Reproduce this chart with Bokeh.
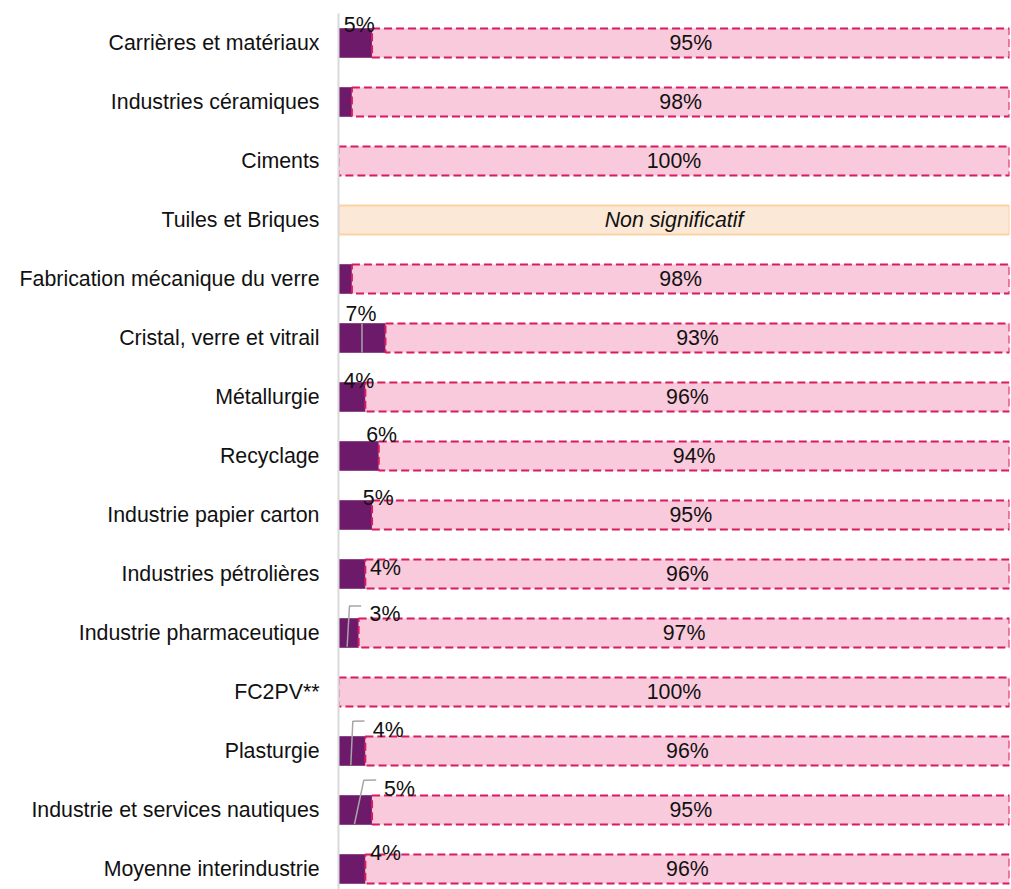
from bokeh.plotting import figure
from bokeh.models import Range1d, FixedTicker
from bokeh.core.properties import value
from bokeh.embed import file_html
from bokeh.resources import INLINE

# ---------------- data ----------------
categories = [
    "Carrières et matériaux", "Industries céramiques", "Ciments", "Tuiles et Briques",
    "Fabrication mécanique du verre", "Cristal, verre et vitrail", "Métallurgie",
    "Recyclage", "Industrie papier carton", "Industries pétrolières",
    "Industrie pharmaceutique", "FC2PV**", "Plasturgie",
    "Industrie et services nautiques", "Moyenne interindustrie",
]
share_dark = [5, 2, 0, None, 2, 7, 4, 6, 5, 4, 3, 0, 4, 5, 4]
share_pink = [95, 98, 100, None, 98, 93, 96, 94, 95, 96, 97, 100, 96, 95, 96]
not_significant = ["", "", "", "Non significatif", "", "", "", "", "", "", "", "", "", "", ""]
show_small_label = [True, False, False, False, False, True, True, True, True, True, True, False, True, True, True]

# label layout (pixel offsets from centre of dark segment / row centre)
small_label_dx = [4, 0, 0, 0, 0, -1, 7, 23, 23, 33.6, 36.4, 0, 36.3, 44.2, 33.6]
small_label_dy = [-18, 0, 0, 0, 0, -24, -16.3, -21, -17, -6, -19, 0, -21, -21, -16]
leader_px = {
    5: [(0, 14.5), (0, -14.5)],
    10: [(-1.4, 13.7), (0.9, -27), (12.6, -27)],
    12: [(-1.1, 14), (0.9, -29.7), (12.6, -30)],
    13: [(-0.8, 14), (8.5, -29.7), (20.9, -30)],
}

FONT = "Liberation Sans"
W, H = 1011, 889
LEFT, RIGHT, TOP = 338, 2, 13
frame_w = W - LEFT - RIGHT
frame_h = H - TOP
PX_X = frame_w / 100.0
PX_Y = 59.0
y_top = -0.5
y_bottom = y_top + frame_h / PX_Y

p = figure(width=W, height=H, output_backend="svg", toolbar_location=None,
           x_range=Range1d(0, 100), y_range=Range1d(y_bottom, y_top),
           min_border_left=LEFT, min_border_right=RIGHT,
           min_border_top=TOP, min_border_bottom=0)
p.outline_line_color = None
p.xgrid.visible = False
p.ygrid.visible = False
p.xaxis.visible = False
p.background_fill_color = "white"

n = len(categories)
rows = list(range(n))
BAR_H = 0.49

# dark segments
dk = [(i, v) for i, v in enumerate(share_dark) if v]
p.hbar(y=[i for i, _ in dk], left=0, right=[v for _, v in dk], height=BAR_H,
       fill_color="#6d1a6a", line_color="#8a4587", line_width=1)

# pink segments
pk = [(i, share_dark[i] or 0, v) for i, v in enumerate(share_pink) if v is not None]
p.hbar(y=[i for i, _, _ in pk], left=[d for _, d, _ in pk], right=[d + v for _, d, v in pk],
       height=BAR_H, fill_color="#f9c9dc", line_color="#d81b60", line_width=2, line_dash="8 4")

# not significant bar
ns = [i for i, t in enumerate(not_significant) if t]
p.hbar(y=ns, left=0, right=100, height=BAR_H, fill_color="#fbe8d6",
       line_color="#fbd1a2", line_width=2)
p.text(x=[50 for _ in ns], y=ns, text=[not_significant[i] for i in ns],
       text_align="center", text_baseline="middle", text_font=value(FONT),
       text_font_size="16pt", text_font_style="italic", text_color="#111111")

# big labels
p.text(x=[d + v / 2 for _, d, v in pk], y=[i for i, _, _ in pk],
       text=[f"{v}%" for _, _, v in pk], text_align="center", text_baseline="middle",
       text_font=value(FONT), text_font_size="16pt", text_color="#111111")

# leader lines
xs, ys = [], []
for i, pts in leader_px.items():
    cx = share_dark[i] / 2
    xs.append([cx + dx / PX_X for dx, _ in pts])
    ys.append([i + dy / PX_Y for _, dy in pts])
p.multi_line(xs=xs, ys=ys, line_color="#a6a6a6", line_width=1.5)

# small labels
sl = [i for i in rows if show_small_label[i]]
p.text(x=[share_dark[i] / 2 for i in sl], y=sl, text=[f"{share_dark[i]}%" for i in sl],
       x_offset=[small_label_dx[i] for i in sl], y_offset=[small_label_dy[i] for i in sl],
       text_align="center", text_baseline="alphabetic", text_font=value(FONT),
       text_font_size="16pt", text_color="#111111")

# y axis
ax = p.yaxis[0]
ax.ticker = FixedTicker(ticks=rows)
ax.major_label_overrides = {i: c for i, c in enumerate(categories)}
ax.axis_line_color = "#d9d9d9"
ax.axis_line_width = 2
ax.major_tick_line_color = None
ax.minor_tick_line_color = None
ax.major_tick_out = 0
ax.major_label_standoff = 19
ax.major_label_text_font = FONT
ax.major_label_text_font_size = "16pt"
ax.major_label_text_color = "#111111"

open("out.html", "w").write(file_html(p, INLINE))
